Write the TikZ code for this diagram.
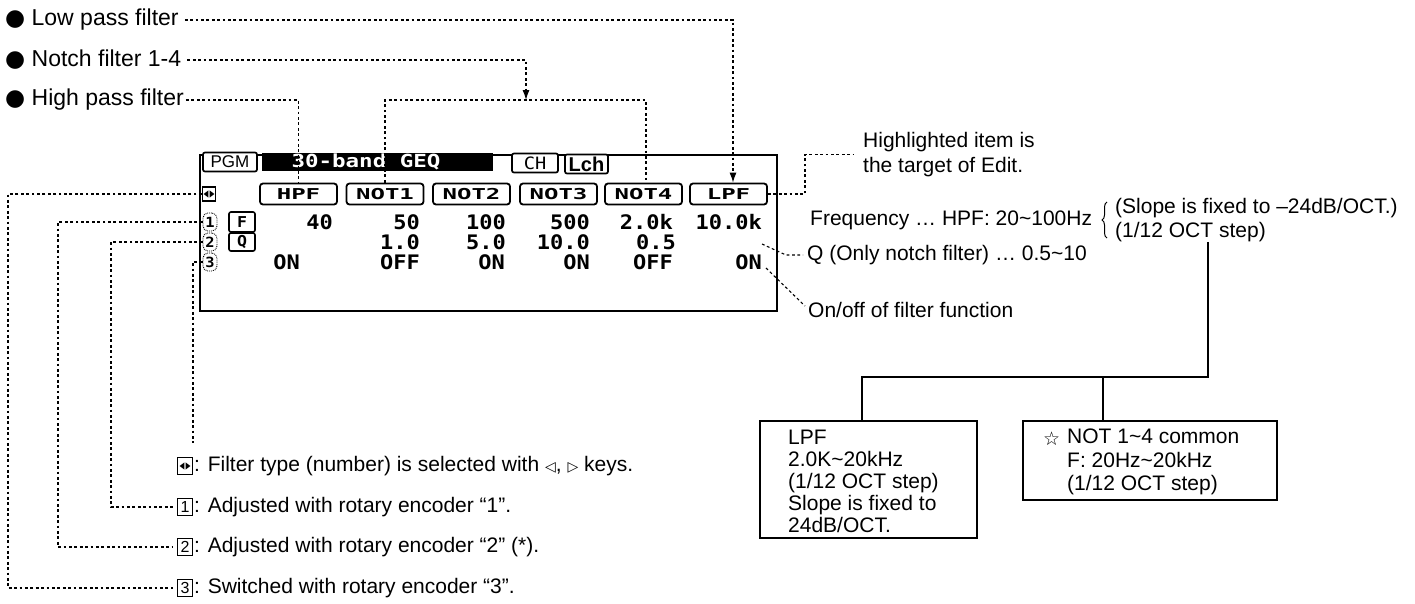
\documentclass[tikz,border=0pt]{standalone}
\usepackage{fontspec}
\setmainfont{Liberation Sans}
\newfontfamily\symf{DejaVu Sans}
\newfontfamily\lcdv[FakeStretch=1.1]{DejaVu Sans Mono}
\newfontfamily\lcdk[FakeStretch=1.6]{DejaVu Sans Mono}
\newfontfamily\lcdt[FakeStretch=1.25]{DejaVu Sans Mono}
\usetikzlibrary{arrows.meta,decorations.pathreplacing}
\newcommand\tld{\char"007E\relax}
\begin{document}
\begin{tikzpicture}[x=1pt,y=-1pt,
  txt/.style={font=\fontsize{21}{24}\selectfont, inner sep=0pt, anchor=west},
  toplbl/.style={font=\fontsize{23}{26}\selectfont, inner sep=0pt, anchor=west},
  dotl/.style={line width=1.1pt, dash pattern=on 2.8pt off 2.6pt},
  arrowend/.style={-{Latex[length=10pt,width=7pt]}},
  keybox/.style={draw, line width=1.8pt, rounded corners=3pt, minimum width=77pt, minimum height=21pt, inner sep=0pt, fill=white, font=\lcdk\bfseries\fontsize{15}{15}\selectfont},
  val/.style={font=\lcdv\bfseries\fontsize{20}{20}\selectfont, inner sep=0pt, anchor=east},
  ringd/.style={draw, densely dotted, line width=0.9pt, rounded corners=5pt, minimum width=14pt, minimum height=18pt, inner sep=0pt, font=\lcdv\bfseries\fontsize{14}{14}\selectfont},
  smallbox/.style={draw, line width=1.6pt, rounded corners=2pt, minimum width=26pt, inner sep=0pt, font=\lcdv\bfseries\fontsize{15}{15}\selectfont},
  legicon/.style={draw, line width=1.2pt, minimum width=15pt, minimum height=17pt, inner sep=0pt, font=\fontsize{16}{16}\selectfont},
  triicon/.style={path picture={
      \fill ([xshift=-5.4pt]path picture bounding box.center) -- ++(4.8pt,3.6pt) -- ++(0,-7.2pt) -- cycle;
      \fill ([xshift=5.4pt]path picture bounding box.center) -- ++(-4.8pt,3.6pt) -- ++(0,-7.2pt) -- cycle;}},
  tagbox/.style={draw, line width=1.7pt, rounded corners=2pt, minimum height=19pt, inner sep=0pt, fill=white},
  infobox/.style={draw, line width=1.5pt, inner sep=0pt},
  treel/.style={line width=2pt}
]
\useasboundingbox (0,0) rectangle (1415,603);
\fill[white] (0,0) rectangle (1415,603);

% ---------- LCD ----------
\node[draw, line width=2pt, minimum width=577pt, minimum height=156pt, inner sep=0pt] (lcd) at (488.5,233) {};
\node[tagbox, minimum width=54pt, font=\fontsize{17}{17}\selectfont] (pgm) at (230,162) {PGM};
\node[fill=black, minimum width=231pt, minimum height=18pt, inner sep=0pt] (titlebar) at (377.5,162) {};
\node[text=white, inner sep=0pt, font=\lcdt\bfseries\fontsize{18}{18}\selectfont] (titletxt) at (366,162) {30-band GEQ};
\node[tagbox, minimum width=46pt, font=\lcdv\fontsize{17}{17}\selectfont] (ch) at (535,163) {CH};
\node[tagbox, minimum width=43pt, font=\bfseries\fontsize{20}{20}\selectfont] (lch) at (586.5,164) {Lch};

\node[keybox] (hpf) at (298.5,194) {HPF};
\node[keybox] (not1) at (385,194) {NOT1};
\node[keybox] (not2) at (471.5,194) {NOT2};
\node[keybox] (not3) at (558.5,194) {NOT3};
\node[keybox] (not4) at (643.5,194) {NOT4};
\node[keybox] (lpf) at (728.5,194) {LPF};

\node[draw, line width=1.3pt, minimum width=13pt, minimum height=14pt, inner sep=0pt, triicon] (lcdsel) at (209,194) {};
\node[ringd] (r1) at (210,222) {1};
\node[ringd] (r2) at (210,242) {2};
\node[ringd] (r3) at (210,262) {3};
\node[smallbox, minimum height=20pt] (fbox) at (242,222) {F};
\node[smallbox, minimum height=18pt] (qbox) at (242,242) {Q};

\node[val] (v11) at (333,222) {40};
\node[val] (v12) at (420,222) {50};
\node[val] (v13) at (506,222) {100};
\node[val] (v14) at (590,222) {500};
\node[val] (v15) at (673,222) {2.0k};
\node[val] (v16) at (762,222) {10.0k};
\node[val] (v22) at (420,242) {1.0};
\node[val] (v23) at (506,242) {5.0};
\node[val] (v24) at (590,242) {10.0};
\node[val] (v25) at (676,242) {0.5};
\node[val] (v31) at (300,262) {ON};
\node[val] (v32) at (420,262) {OFF};
\node[val] (v33) at (505,262) {ON};
\node[val] (v34) at (590,262) {ON};
\node[val] (v35) at (673,262) {OFF};
\node[val] (v36) at (762,262) {ON};

% ---------- top labels ----------
\node[toplbl] (lowlbl) at (5,20) {{\symf ●} Low pass filter};
\node[toplbl] (notlbl) at (5,60) {{\symf ●} Notch filter 1-4};
\node[toplbl] (hilbl) at (5,100) {{\symf ●} High pass filter};
\coordinate (lpfx) at (733,0);
\coordinate (notx) at (526,0);
\coordinate (brL) at (385,100);
\coordinate (brR) at (646,100);
\draw[dotl,arrowend] ([xshift=6pt]lowlbl.east) -- (lowlbl.east -| lpfx) -- (lpfx |- lpf.north);
\draw[dotl,arrowend] ([xshift=6pt]notlbl.east) -- (notlbl.east -| notx) -- (notx |- brL);
\draw[dotl] ([xshift=2pt]hilbl.east) -- (hilbl.east -| hpf.north) -- (hpf.north);
\draw[dotl] (not1.north) -- (not1.north |- brL) -- (brR) -- (brR |- not4.north);

% ---------- right side ----------
\node[txt, align=left, font=\fontsize{21}{25}\selectfont] (hl) at (863,154.5) {Highlighted item is\\the target of Edit.};
\coordinate (hlx) at (805,0);
\draw[dotl] (lpf.east) -- (lpf.east -| hlx) -- (hlx |- hl.west) -- ([xshift=-9pt]hl.west);
\node[txt] (freq) at (810,220) {Frequency … HPF: 20\tld100Hz};
\draw[line width=1pt, decorate, decoration={brace, amplitude=5pt}] (1107,238) -- (1107,202);
\node[txt] (slope) at (1115,208) {(Slope is fixed to –24dB/OCT.)};
\node[txt] (step) at (1115,232) {(1/12 OCT step)};
\node[txt] (qtxt) at (807,255) {Q (Only notch filter) … 0.5\tld10};
\node[txt] (onoff) at (808,310) {On/off of filter function};
\coordinate (qsrc) at (762,244);
\coordinate (qbend) at (786,255);
\draw[dotl] (qsrc) -- (qbend) -- ([xshift=-4pt]qtxt.west);
\coordinate (osrc) at (766,268);
\draw[dotl] (osrc) -- ([xshift=-3pt,yshift=4pt]onoff.west);

% ---------- tree and boxes ----------
\node[infobox, minimum width=217pt, minimum height=117pt] (lpfbox) at (868.5,479.5) {};
\node[infobox, minimum width=254pt, minimum height=79pt] (notbox) at (1150,460.5) {};
\node[txt, align=left, font=\fontsize{21}{22}\selectfont] (lpftext) at (788,481) {LPF\\2.0K\tld20kHz\\(1/12 OCT step)\\Slope is fixed to\\24dB/OCT.};
\node[txt, font=\symf\fontsize{19}{19}\selectfont] (star) at (1043,439) {☆};
\node[txt, align=left, font=\fontsize{21}{23.5}\selectfont] (nottext) at (1067,462) {NOT 1\tld4 common\\F: 20Hz\tld20kHz\\(1/12 OCT step)};
\coordinate (tj) at (1208,377);
\coordinate (lj) at (862,377);
\coordinate (nj) at (1103,377);
\draw[treel] (tj |- step.south) -- (tj) -- (lj) -- (lj |- lpfbox.north);
\draw[treel] (nj) -- (nj |- notbox.north);

% ---------- legend ----------
\node[legicon, triicon] (leg0) at (185,466) {};
\node[legicon] (leg1) at (185,507) {1};
\node[legicon] (leg2) at (185,547) {2};
\node[legicon] (leg3) at (185,588) {3};
\node[txt] (legt0) at (194,466) {: Filter type (number) is selected with {\symf\fontsize{14}{14}\selectfont ◁}, {\symf\fontsize{14}{14}\selectfont ▷} keys.};
\node[txt] (legt1) at (194,507) {: Adjusted with rotary encoder “1”.};
\node[txt] (legt2) at (194,547) {: Adjusted with rotary encoder “2” (*).};
\node[txt] (legt3) at (194,588) {: Switched with rotary encoder “3”.};

\coordinate (xa) at (8,0);
\coordinate (xb) at (58,0);
\coordinate (xc) at (111,0);
\coordinate (xd) at (193,0);
\coordinate (dend) at (193,443);
\draw[dotl, shorten >=4pt] (lcdsel.west) -- (lcdsel.west -| xa) -- (xa |- leg3.west) -- (leg3.west);
\draw[dotl, shorten >=4pt] (r1.west) -- (r1.west -| xb) -- (xb |- leg2.west) -- (leg2.west);
\draw[dotl, shorten >=4pt] (r2.west) -- (r2.west -| xc) -- (xc |- leg1.west) -- (leg1.west);
\draw[dotl] (r3.west) -- (r3.west -| xd) -- (dend);
\end{tikzpicture}
\end{document}
